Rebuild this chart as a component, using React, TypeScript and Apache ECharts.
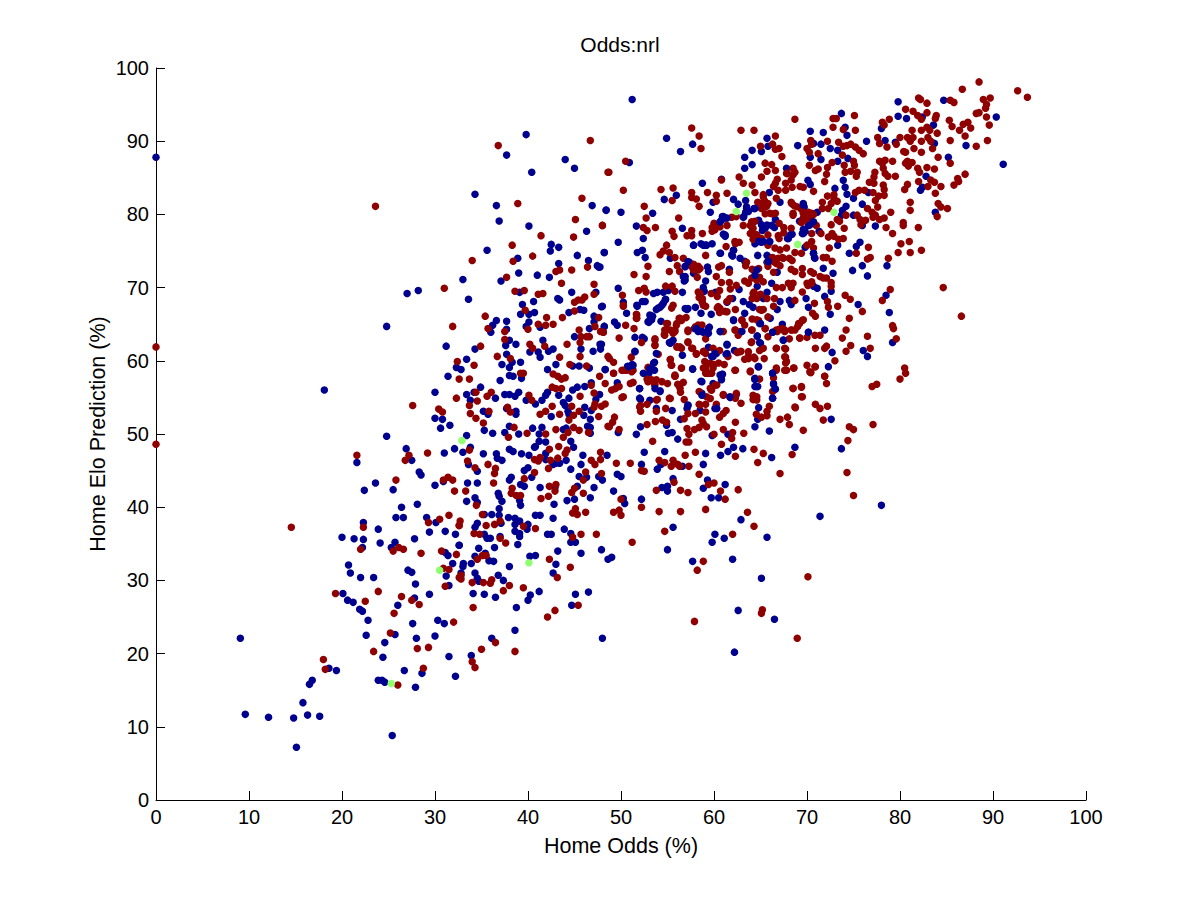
import React, { useEffect, useRef } from "react";
import * as echarts from "echarts";

const chartTitle = "Odds:nrl";
const xAxisTitle = "Home Odds (%)";
const yAxisTitle = "Home Elo Prediction (%)";

const bluePoints: number[][] = [
[0,87.8],[24.8,49.7],[26.9,48.0],[31.0,47.4],[32.1,48.0],[27.5,46.4],[21.6,46.1],[28.3,44.8],[28.5,44.4],[23.6,43.3],[22.4,42.3],[25.5,42.4],[30.0,43.0],[30.9,43.5],[26.4,40.0],[28.1,40.4],[25.8,38.6],[26.6,38.6],[29.1,38.6],[30.1,37.9],[22.3,37.9],[23.9,37.0],[29.4,36.6],[31.1,36.7],[32.2,36.3],[20.0,35.9],[21.3,35.7],[22.3,35.6],[27.8,35.7],[24.1,35.1],[25.7,35.2],[25.3,34.5],[22.2,34.5],[32.6,34.8],[31.1,33.8],[31.4,33.4],[20.7,32.1],[20.9,31.0],[31.9,32.3],[27.1,31.4],[27.5,31.1],[22.0,30.4],[23.4,30.4],[31.2,30.6],[27.9,29.5],[31.5,29.3],[20.1,28.2],[20.6,27.3],[21.2,27.0],[27.8,27.6],[29.4,28.1],[26.0,26.6],[21.9,26.05],[22.2,25.8],[22.8,24.55],[27.6,24.1],[30.3,24.55],[31.0,24.1],[22.6,22.5],[25.7,22.6],[28.0,22.1],[30.0,22.4],[24.6,21.5],[24.4,19.5],[31.5,19.6],[9.07,22.1],[18.6,18.0],[19.4,17.7],[26.7,17.7],[28.6,17.3],[32.2,16.9],[16.8,16.35],[16.5,15.8],[23.9,16.35],[24.3,16.35],[24.6,16.1],[27.9,15.4],[15.8,13.3],[9.6,11.7],[12.1,11.3],[14.8,11.2],[16.3,11.6],[17.6,11.45],[25.4,8.8],[15.1,7.2],
[39.8,90.9],[37.7,88.1],[44.0,87.5],[45.0,86.3],[40.4,85.75],[34.3,82.75],[36.6,81.2],[46.9,81.2],[48.4,80.6],[36.9,79.1],[40.1,78.4],[46.3,77.7],[42.5,75.9],[43.3,75.5],[42.4,75.0],[35.6,75.1],[45.3,74.4],[48.2,74.8],[38.9,74.0],[46.5,73.7],[43.3,73.3],[47.45,73.0],[47.6,72.8],[39.0,72.0],[41.0,71.7],[42.3,71.4],[33.0,71.1],[37.1,70.9],[27.0,69.2],[28.2,69.6],[33.6,68.4],[39.1,69.35],[44.7,69.35],[47.3,69.35],[39.4,67.7],[40.6,68.1],[43.2,68.5],[43.4,68.3],[47.9,67.4],[44.4,66.6],[45.6,67.0],[46.0,66.9],[39.2,66.35],[40.1,66.35],[40.7,66.6],[47.1,66.1],[36.6,65.5],[37.7,65.4],[36.2,64.85],[24.8,64.7],[40.1,65.3],[39.8,64.7],[41.3,64.6],[47.1,65.3],[48.2,64.7],[46.6,64.4],[36.0,63.9],[37.7,64.3],[45.0,63.3],[38.0,62.8],[37.6,62.1],[38.7,62.25],[41.6,62.8],[31.2,62.0],[34.3,61.6],[45.7,61.6],[47.9,62.25],[47.8,61.6],[47.0,61.3],[37.7,60.9],[40.2,61.2],[41.1,61.2],[41.3,60.5],[42.2,61.3],[42.7,61.6],[33.4,60.2],[38.3,59.8],[39.2,59.8],[37.2,59.5],[38.0,59.1],[43.0,59.5],[32.3,59.1],[32.8,58.8],[44.8,59.3],[45.5,59.3],[46.6,59.0],[48.3,58.8],[42.1,58.8],[31.4,57.9],[38.0,58.0],[38.4,57.9],[39.3,57.6],[37.0,57.3],[46.8,57.0],[46.1,56.5],[34.9,56.4],[44.8,56.0],[45.3,56.4],[18.1,56.0],[30.0,55.7],[33.4,55.4],[34.2,55.7],[37.5,55.4],[38.0,55.4],[39.0,55.7],[38.6,55.15],[36.5,54.9],[33.8,54.6],[42.1,55.7],[41.9,55.3],[43.3,55.3],[44.4,54.9],[47.7,55.4],[47.3,54.7],[41.5,54.6],[39.8,54.6],[40.8,54.1],[43.8,54.3],[44.0,53.9],[46.1,53.65],[46.8,53.2],[37.7,53.5],[35.2,53.1],[35.7,52.7],[38.7,53.1],[38.7,52.7],[44.3,53.1],[44.4,52.7],[46.0,52.55],[42.5,52.4],[30.0,52.15],[30.8,52.0],[46.7,52.0],[31.6,51.2],[30.6,50.8],[38.0,51.05],[40.5,50.8],[41.5,50.9],[43.8,50.6],[44.1,50.8],[46.4,51.05],[46.7,50.9],[35.3,50.5],[37.5,50.2],[36.2,50.1],[33.4,49.8],[39.0,50.0],[41.2,50.0],[46.7,50.1],
[33.8,48.2],[33.0,47.5],[35.2,47.3],[36.6,47.3],[38.0,47.9],[38.4,47.6],[39.3,47.3],[40.1,47.1],[40.8,48.3],[41.2,49.0],[41.9,48.9],[40.7,48.2],[44.9,48.2],[44.6,49.0],[45.9,47.1],[48.5,47.1],[36.7,46.7],[37.2,46.4],[33.6,45.85],[34.55,44.9],[41.9,47.35],[41.9,46.5],[43.0,46.0],[43.4,46.0],[44.1,46.4],[45.7,45.85],[42.7,45.85],[40.0,45.4],[39.6,45.0],[40.4,44.1],[44.6,45.2],[38.0,43.7],[38.2,44.1],[33.5,43.3],[34.55,43.3],[39.2,43.1],[39.6,42.85],[41.3,42.7],[42.9,42.7],[45.5,44.2],[46.3,44.1],[47.6,44.2],[48.0,43.7],[45.3,42.85],[47.1,42.7],[36.8,41.9],[36.9,41.5],[34.3,41.3],[33.4,40.8],[34.55,40.65],[37.2,40.8],[39.1,40.9],[39.2,40.25],[42.8,40.4],[44.2,40.9],[45.0,41.1],[46.7,41.3],[36.9,39.8],[36.9,38.9],[35.3,39.0],[36.1,39.0],[37.9,38.6],[38.6,38.5],[39.1,38.1],[40.8,38.9],[41.3,38.9],[42.7,38.5],[34.55,37.8],[34.3,37.25],[37.1,37.8],[38.6,37.65],[40.0,37.65],[38.6,36.7],[39.1,36.4],[39.1,36.0],[39.9,37.0],[35.3,36.3],[35.6,35.75],[35.95,35.75],[37.0,36.0],[42.1,36.3],[42.5,36.3],[43.9,37.0],[44.6,36.4],[44.6,35.2],[45.1,35.2],[32.6,34.8],[34.7,34.4],[36.4,34.5],[38.9,34.9],[43.2,34.0],[45.7,33.7],[47.9,34.2],[34.3,33.3],[35.4,33.7],[35.8,32.7],[36.3,32.6],[40.2,33.3],[40.8,33.4],[48.6,32.9],[49.0,33.15],[33.05,32.3],[33.0,31.9],[33.9,32.3],[38.0,31.9],[43.0,32.2],[42.7,31.0],[32.8,31.0],[34.3,31.0],[34.7,29.9],[34.55,30.3],[36.8,30.7],[37.35,30.0],[34.1,28.2],[35.3,28.1],[36.5,27.7],[41.2,28.5],[40.25,28.0],[40.0,27.3],[45.1,28.1],[46.5,28.4],[38.75,26.3],[44.7,26.6],[38.6,23.2],[36.1,22.1],[48.0,22.1],[33.9,19.75],
[49.6,57.0],[52.0,56.2],[52.1,54.7],[53.1,54.6],[54.2,55.8],[53.8,53.5],[55.5,53.2],[57.2,53.9],[57.1,53.5],[58.6,57.2],[59.9,56.9],[60.8,57.5],[60.9,58.15],[58.7,55.55],[61.75,55.0],[62.4,55.4],[60.1,53.5],[58.5,53.2],[64.4,57.5],[64.4,56.5],[64.7,56.5],[66.3,58.3],[66.4,56.9],[66.6,56.1],[66.3,54.9],[64.8,53.6],[64.7,52.0],[64.4,51.0],[65.95,50.4],[72.6,52.0],[56.4,52.0],[52.1,51.0],[49.7,50.2],[51.65,49.95],[54.9,51.2],[55.1,50.1],[55.5,50.2],[56.1,49.3],[59.8,49.8],[61.5,49.95],[52.5,47.5],[54.7,47.6],[59.1,47.35],[62.1,48.2],[61.5,47.6],[60.7,47.1],[63.1,48.0],[66.2,46.8],[68.7,48.2],[73.7,48.0],[52.2,45.85],[58.85,45.85],[53.9,45.2],[54.3,45.85],[56.6,45.6],[49.6,44.5],[50.0,44.2],[55.6,43.9],[59.3,43.7],[61.2,43.1],[58.85,42.6],[54.4,42.7],[55.0,42.85],[55.0,42.2],[49.2,42.2],[52.2,41.1],[59.7,41.3],[60.5,41.3],[50.25,41.2],[50.4,40.5],[78.0,40.25],[71.4,38.75],[62.9,38.3],[55.6,37.25],[60.1,36.3],[61.1,35.75],[59.8,35.2],[65.7,35.9],[55.0,34.2],[62.0,32.9],[57.7,32.6],[65.1,30.3],[62.6,25.9],[66.5,24.7],[62.2,20.2],
[51.2,95.7],[79.8,95.4],[84.7,95.6],[73.7,93.8],[79.8,93.4],[80.7,93.1],[82.4,93.3],[90.35,93.3],[83.6,92.2],[74.1,91.9],[78.0,91.75],[70.35,91.35],[71.75,91.2],[74.3,90.8],[65.7,90.4],[54.9,90.4],[57.7,89.6],[56.4,88.6],[78.4,90.1],[76.4,90.0],[79.5,89.85],[83.7,89.7],[70.7,89.7],[71.5,89.6],[69.0,89.4],[72.5,89.0],[73.3,88.75],[87.1,89.4],[65.8,89.3],[64.1,88.75],[65.1,88.6],[63.3,87.8],[70.35,87.8],[71.5,87.5],[74.4,87.65],[73.3,87.25],[85.2,87.8],[50.9,87.1],[91.1,86.85],[64.1,86.8],[63.3,86.3],[67.8,86.3],[82.8,85.2],[73.9,84.65],[70.1,84.65],[70.35,84.1],[58.75,84.25],[60.8,84.8],[73.0,83.55],[74.1,83.7],[74.3,82.75],[65.95,83.0],[82.4,83.7],[82.2,83.3],[76.6,83.0],[75.0,82.2],[55.95,82.6],[54.65,82.05],[59.9,81.65],[62.1,82.05],[63.4,81.9],[75.95,81.4],[67.1,81.65],[69.6,81.5],[69.7,81.0],[74.2,81.1],[73.8,80.55],[48.4,80.55],[50.0,80.3],[53.4,80.15],[59.6,80.3],[83.8,80.3],[62.6,81.4],[63.5,80.8],[64.3,80.8],[63.4,80.3],[63.15,79.6],[71.1,80.3],[75.0,79.9],[73.7,79.9],[60.9,79.7],[61.2,79.5],[60.8,79.2],[64.8,79.2],[66.6,79.3],[65.1,78.6],[65.5,78.1],[65.2,77.8],[66.2,78.5],[66.5,78.2],[51.65,78.4],[56.6,78.1],[77.35,78.4],[75.95,78.5],[69.2,79.05],[70.15,78.5],[70.5,78.8],[69.6,77.95],[69.5,77.4],[71.3,77.7],[61.0,77.3],[61.2,77.0],[68.4,77.3],[67.9,76.7],[52.4,76.7],[49.7,76.2],[65.95,76.2],[65.1,76.2],[64.4,76.0],[57.8,75.8],[59.1,75.8],[58.6,76.0],[59.8,76.0],[62.3,76.2],[73.3,75.8],[75.7,76.2],[75.3,75.6],[69.8,75.5],[48.2,74.8],[51.75,74.8],[52.3,75.1],[60.7,74.7],[62.1,75.1],[62.0,74.3],[74.55,74.7],[70.7,74.7],[70.8,74.1],[52.6,74.1],[55.3,74.0],[62.8,74.0],[63.3,73.6],[64.7,74.4],[65.7,74.4],[65.95,74.1],[65.7,73.45],[57.35,73.45],[56.9,72.9],[59.3,72.8],[59.4,72.2],[61.65,72.5],[71.75,72.65],[75.95,73.0],[78.6,73.0],[74.9,72.35],[47.74,72.8],[57.8,71.95],[66.8,72.1],[72.8,71.95],[76.5,71.6],[56.9,71.5],[56.8,70.9],[59.1,70.9],[66.2,70.6],[49.7,69.9],[53.5,69.2],[53.9,69.35],[54.55,69.35],[55.1,69.6],[56.6,69.35],[58.85,70.0],[58.95,69.5],[60.15,69.35],[62.7,69.75],[64.65,70.2],[70.7,70.2],[71.1,69.9],[72.6,69.5],[71.9,68.8],[78.5,68.95],[69.9,68.5],[65.3,68.5],[65.7,69.35],[62.0,68.5],[63.15,68.1],[61.4,68.0],[63.8,67.7],[64.2,67.3],[67.1,68.1],[68.1,68.25],[68.3,67.7],[52.3,68.1],[51.75,67.45],[50.25,68.0],[54.8,68.4],[54.55,67.85],[54.2,67.3],[53.8,67.0],[48.0,67.45],[50.6,66.5],[57.1,67.0],[58.0,67.3],[58.6,66.5],[59.7,66.35],[66.8,67.0],[70.15,67.3],[75.5,67.7],[78.85,66.6],[72.5,66.35],[66.05,65.8],[62.1,65.5],[64.9,65.1],[67.35,65.0],[53.4,66.1],[53.15,65.7],[53.0,65.25],[54.3,65.4],[49.3,65.3],[49.6,64.85],[48.2,64.7],[57.9,64.4],[58.3,64.0],[58.85,63.9],[59.5,64.6],[60.7,64.0],[62.9,64.0],[66.3,63.9],[70.15,63.9],[71.9,64.2],[64.65,63.35],[65.0,62.4],[67.45,62.8],[51.5,63.2],[52.3,63.2],[52.5,63.0],[55.6,62.8],[55.2,62.5],[79.2,62.5],[47.74,62.25],[61.4,62.25],[59.4,61.85],[62.2,61.4],[51.5,61.3],[76.05,61.4],[76.5,60.6],[72.7,61.15],[56.6,60.75],[61.3,60.9],[60.25,61.0],[59.9,60.6],[53.6,59.8],[51.2,59.5],[50.7,59.25],[48.3,58.8],[53.0,58.3],[53.6,58.7],[57.7,58.85],[64.8,59.2],[66.3,58.3],[72.3,59.2],[60.9,58.15],[64.4,57.6],
];

const redPoints: number[][] = [
[0,61.9],[0,48.6],[93.7,96.0],[21.6,47.1],[27.2,47.1],[26.8,46.4],[29.2,47.4],[25.8,43.7],[31.4,44.1],[31.9,43.7],[30.9,43.7],[32.1,42.2],[22.3,37.25],[14.55,37.25],[29.3,37.9],[30.5,38.35],[31.5,38.9],[32.6,37.5],[22.0,34.25],[25.5,34.0],[26.1,34.5],[26.6,34.25],[28.5,33.7],[30.7,34.0],[32.3,33.55],[30.9,31.65],[31.5,31.5],[32.6,30.4],[31.1,29.2],[19.3,28.2],[23.9,28.5],[26.4,27.8],[22.5,27.15],[27.5,27.3],[28.3,26.7],[25.6,25.5],[32.0,24.3],[25.2,22.8],[23.4,20.3],[28.1,20.7],[29.3,20.85],[18.0,19.2],[18.2,17.85],[28.75,18.0],[26.0,15.7],
[36.8,89.4],[46.7,90.1],[23.6,81.1],[48.6,85.75],[45.8,82.2],[38.9,81.5],[45.1,79.3],[48.0,78.5],[41.4,77.1],[44.9,76.9],[38.3,75.8],[40.5,74.3],[34.0,73.7],[38.4,73.6],[46.4,72.8],[43.4,72.4],[43.0,72.2],[44.7,72.4],[37.7,71.4],[43.6,70.6],[47.1,70.45],[31.0,69.9],[38.6,69.5],[39.6,69.6],[41.1,69.1],[41.6,69.2],[47.1,69.1],[45.0,68.0],[45.4,68.3],[45.8,68.3],[46.1,68.7],[39.7,66.9],[45.0,66.8],[35.4,66.1],[42.0,65.9],[43.7,65.9],[47.6,65.9],[31.9,64.7],[35.7,64.4],[41.1,65.0],[41.9,64.85],[42.7,65.0],[47.2,64.7],[40.0,64.3],[37.5,64.0],[45.5,64.2],[47.8,64.0],[48.1,63.9],[45.7,63.3],[46.3,63.3],[46.6,63.3],[37.5,62.9],[45.6,62.5],[44.2,62.25],[40.2,62.25],[34.9,62.0],[40.5,61.7],[41.8,62.0],[36.7,60.6],[38.1,60.3],[43.4,60.5],[45.6,60.6],[48.6,60.6],[32.4,59.9],[34.2,59.4],[44.5,59.5],[46.3,59.3],[39.2,58.3],[39.5,58.3],[42.7,58.2],[43.2,57.9],[44.0,57.7],[43.6,57.5],[32.6,57.5],[33.7,57.5],[47.7,57.9],[48.3,56.9],[46.8,56.65],[42.6,56.4],[43.0,56.2],[43.6,56.2],[34.4,55.7],[36.05,55.7],[35.6,55.15],[40.1,55.3],[47.1,55.6],[32.3,54.9],[45.6,55.15],[40.4,54.6],[34.55,54.5],[33.7,53.9],[27.6,53.9],[42.6,53.8],[44.7,53.8],[47.2,54.1],[48.3,54.1],[47.9,53.8],[47.1,53.65],[30.4,53.4],[30.8,53.0],[33.8,52.8],[35.8,53.1],[37.8,53.65],[38.1,53.0],[41.3,52.7],[41.9,53.1],[43.4,52.7],[45.5,53.1],[44.9,52.55],[34.4,52.15],[47.6,52.4],[44.4,51.9],[35.2,51.5],[38.5,50.9],[43.0,50.6],[44.9,50.9],[45.5,50.5],[48.6,51.05],[46.5,50.2],[41.9,50.0],[39.9,50.1],[44.3,50.2],[37.9,49.55],[43.8,49.55],
[33.7,47.8],[33.5,46.3],[34.3,45.4],[35.7,45.85],[36.5,45.3],[36.4,44.6],[36.3,43.3],[39.6,43.9],[40.7,44.75],[40.7,46.5],[41.1,46.3],[41.3,46.8],[42.2,45.3],[43.3,48.3],[42.3,47.9],[44.2,47.8],[44.0,47.35],[43.2,46.7],[42.4,46.4],[47.8,47.5],[47.8,46.5],[46.8,46.4],[47.2,45.85],[46.2,44.8],[47.9,44.6],[45.95,43.7],[33.3,42.2],[38.3,42.6],[38.2,41.9],[38.75,41.6],[39.2,41.6],[42.3,42.85],[43.0,43.1],[42.9,42.2],[45.0,42.6],[44.7,42.0],[45.95,41.9],[42.2,41.5],[41.4,41.2],[34.45,40.25],[45.1,39.8],[44.8,39.2],[45.3,39.0],[46.2,39.3],[35.1,39.0],[32.7,38.1],[32.6,37.5],[35.5,37.5],[36.4,37.65],[37.0,38.1],[39.5,37.4],[40.8,37.1],[34.2,36.4],[34.8,36.3],[37.0,35.75],[37.6,35.1],[44.8,35.9],[45.7,36.3],[47.35,36.3],[34.55,32.9],[35.1,33.4],[35.5,33.4],[42.3,32.9],[44.55,31.8],[32.8,30.7],[32.8,30.2],[43.15,30.4],[34.0,29.7],[35.2,29.7],[35.95,29.6],[36.1,30.1],[38.0,29.3],[37.35,28.6],[39.5,29.0],[34.1,26.3],[42.9,25.9],[42.1,25.0],[45.4,26.6],[36.5,21.5],[35.0,20.6],[38.6,20.3],[34.0,18.9],[34.3,18.1],
[51.2,35.2],[49.5,46.0],[51.0,46.0],[52.2,45.0],[52.5,44.9],[54.1,46.4],[54.7,46.1],[55.6,46.4],[56.1,45.85],[55.4,45.6],[56.3,45.6],[57.3,45.6],[56.9,47.1],[58.0,47.5],[58.4,44.5],[55.7,43.4],[56.4,42.3],[57.2,42.0],[53.8,42.3],[59.4,43.1],[60.0,43.3],[60.7,42.2],[61.2,41.1],[62.6,42.4],[59.1,39.7],[56.4,39.4],[54.1,39.4],[52.2,40.0],[49.2,39.3],[49.8,39.6],[50.0,38.9],[50.0,41.1],[63.6,39.3],[64.3,37.4],[62.0,36.3],[54.7,36.7],[58.85,32.6],[58.2,31.4],[70.1,30.5],[65.2,26.0],[65.1,25.5],[57.9,24.4],[68.95,22.1],[75.0,41.6],[74.3,44.75],[67.1,44.6],[64.7,46.1],[65.3,47.35],[64.3,47.9],[62.3,46.95],[68.4,47.2],[74.4,49.1],[69.6,50.5],[77.1,51.3],[75.0,50.6],[74.55,51.0],[71.75,51.9],[68.1,51.3],[67.9,52.3],[67.1,52.0],[68.75,53.6],[70.9,54.05],[71.4,53.5],[72.2,53.8],[69.5,55.1],[68.5,56.2],[69.4,56.4],[72.1,56.9],[71.9,57.9],[77.0,56.5],[77.5,56.8],[70.4,58.4],[63.2,50.1],[62.0,50.2],[61.0,50.6],[62.3,51.6],[60.8,48.6],[60.0,49.95],[61.9,49.4],[65.7,52.5],[65.1,52.3],[64.55,52.7],[65.95,53.8],[65.7,53.1],[64.6,55.1],[64.2,54.7],[62.9,54.2],[62.3,54.9],[61.0,55.4],[60.25,54.05],[61.3,53.2],[60.6,52.3],[61.0,52.8],[59.1,54.05],[58.4,54.05],[59.1,53.0],[58.0,52.8],[57.2,52.8],[56.8,52.1],[58.7,51.9],[58.85,51.45],[59.2,51.0],[58.4,50.9],[57.9,50.6],[57.1,50.75],[57.3,49.95],[57.0,48.9],[57.3,48.9],[53.4,49.0],[54.9,51.6],[54.45,51.9],[53.7,51.7],[52.8,51.3],[49.3,52.3],[49.1,51.6],[48.75,51.0],[49.8,50.6],[50.1,55.0],[52.1,53.9],[52.1,53.1],[52.8,54.05],[53.9,54.7],[53.8,53.1],[54.8,53.5],[55.2,54.9],[56.8,54.7],[56.4,55.7],[56.1,56.8],[56.7,57.05],[55.8,57.9],[55.0,56.9],[53.6,56.8],[52.8,57.5],[51.0,56.9],[51.3,57.05],[49.2,58.3],[49.0,56.0],[49.4,56.2],[49.8,56.5],[58.4,55.8],[59.7,56.0],[60.1,56.65],[59.4,58.3],[66.4,57.7],[64.9,57.5],[66.3,55.8],
[88.5,98.1],[86.7,97.1],[92.65,96.9],[82.0,95.9],[82.2,95.7],[82.9,95.2],[85.4,95.6],[85.8,95.3],[88.96,95.7],[89.7,95.9],[89.3,95.0],[89.2,94.5],[80.6,94.35],[81.4,94.1],[82.9,93.9],[81.9,93.5],[88.5,93.9],[88.2,93.8],[89.3,93.3],[83.9,93.5],[83.8,93.1],[82.3,93.0],[75.1,93.5],[72.8,93.1],[73.15,93.1],[68.7,93.0],[85.3,92.85],[78.85,93.0],[78.1,92.6],[78.3,92.2],[87.3,92.6],[86.8,92.3],[87.6,91.8],[89.6,92.2],[72.8,91.9],[73.9,91.6],[75.2,91.5],[85.6,92.0],[86.4,91.5],[84.0,91.1],[81.3,91.5],[82.3,91.5],[82.9,91.9],[83.2,91.5],[57.6,91.8],[58.4,90.7],[62.9,91.5],[64.3,91.5],[66.6,90.7],[87.0,90.7],[89.4,90.1],[85.4,90.1],[88.2,89.3],[77.6,90.5],[80.0,90.5],[80.8,90.5],[81.4,90.5],[81.1,90.0],[82.3,90.0],[83.0,90.5],[83.3,90.0],[77.8,89.7],[78.6,89.2],[79.6,89.6],[83.5,89.0],[81.5,89.0],[80.4,88.6],[80.6,88.5],[82.3,88.5],[70.4,90.1],[72.2,90.0],[73.4,89.85],[73.9,89.3],[74.3,89.4],[74.7,89.6],[75.2,89.2],[75.6,88.75],[76.05,88.3],[70.5,89.6],[70.0,89.0],[70.25,88.5],[71.2,88.3],[73.8,88.1],[65.0,89.3],[66.3,89.6],[66.6,88.9],[67.0,89.0],[67.3,87.9],[58.6,89.0],[50.5,87.25],[48.7,85.75],[84.1,87.8],[85.4,87.0],[77.8,87.25],[78.4,87.4],[78.1,87.0],[79.2,87.25],[80.6,87.0],[80.8,87.25],[81.3,87.1],[80.9,86.6],[78.2,86.3],[65.5,87.0],[66.2,86.8],[75.0,87.25],[75.1,86.7],[74.0,86.7],[72.7,87.1],[72.2,86.4],[70.25,86.7],[71.2,86.2],[70.9,86.0],[65.7,85.9],[66.6,86.0],[67.9,85.6],[68.5,86.3],[68.7,85.75],[74.1,85.75],[74.7,85.9],[75.4,85.75],[75.3,85.2],[72.1,85.5],[71.9,84.5],[81.9,86.3],[82.1,85.75],[82.9,86.4],[83.7,86.2],[77.3,85.75],[77.2,85.1],[78.4,85.6],[78.7,85.2],[79.5,85.2],[87.0,85.5],[86.2,84.9],[86.3,84.5],[85.8,84.0],[82.0,84.5],[83.3,84.7],[83.7,84.4],[83.0,83.8],[84.4,83.8],[83.8,82.9],[80.8,84.1],[80.5,83.4],[62.7,85.1],[65.1,85.1],[60.8,84.7],[63.15,84.25],[64.1,84.0],[66.8,84.8],[66.6,84.25],[66.4,83.8],[67.7,84.25],[68.3,84.7],[68.4,83.7],[69.25,83.8],[69.6,83.7],[70.7,83.15],[50.25,83.3],[54.3,83.4],[55.6,83.6],[57.6,83.0],[59.3,83.0],[61.4,82.9],[60.25,82.6],[57.6,82.3],[58.1,82.1],[64.4,83.0],[66.9,83.3],[67.7,83.3],[76.7,84.4],[77.2,84.25],[78.2,84.0],[78.3,83.4],[77.1,83.0],[78.3,82.6],[77.7,82.5],[77.35,81.9],[75.2,83.0],[75.6,83.3],[76.2,83.3],[72.9,82.7],[72.2,82.5],[72.9,82.1],[55.5,81.9],[65.3,82.7],[65.4,81.9],[64.7,81.65],[65.8,81.5],[65.4,81.1],[60.25,81.8],[58.4,81.1],[52.5,81.1],[84.1,81.5],[84.4,81.0],[85.1,80.8],[81.1,81.65],[81.1,80.55],[79.0,80.3],[77.6,81.0],[76.5,80.8],[77.0,80.3],[77.35,79.9],[78.3,79.5],[77.8,79.3],[77.1,79.6],[68.3,81.65],[68.6,81.2],[68.5,79.9],[69.4,80.7],[70.15,80.3],[70.7,80.0],[69.6,79.5],[69.4,78.9],[70.4,79.3],[72.6,81.5],[72.3,80.8],[73.25,81.8],[71.65,81.65],[71.65,80.8],[74.2,79.9],[73.25,79.3],[73.5,79.05],[72.6,78.6],[75.4,79.9],[75.7,79.3],[76.3,79.2],[75.8,78.6],[74.0,78.1],[80.35,78.9],[80.35,78.5],[81.97,78.2],[84.0,79.7],[78.5,78.2],[79.2,77.4],[56.2,79.5],[52.7,79.5],[48.0,78.5],[52.4,78.2],[52.8,77.8],[53.7,78.2],[55.5,77.7],[55.7,77.0],[57.6,77.8],[57.1,77.1],[57.6,77.1],[58.75,77.4],[60.0,78.8],[59.8,78.2],[60.25,78.5],[59.8,77.7],[61.4,78.5],[61.9,79.6],[63.15,78.5],[64.4,79.05],[63.9,78.5],[64.1,78.2],[64.4,77.3],[64.2,76.6],[64.7,76.9],[65.5,80.1],[66.2,80.1],[67.0,78.8],[67.5,78.2],[67.5,77.5],[66.9,77.1],[67.0,76.7],[68.3,78.1],[71.0,78.5],[71.5,77.4],[70.5,77.4],[72.3,76.9],[72.7,77.4],[72.9,77.0],[73.9,76.7],[73.4,76.6],[72.4,75.4],[76.6,75.5],[80.1,76.0],[81.0,76.3],[79.8,74.8],[81.1,74.8],[82.3,75.1],[78.75,74.0],[75.3,74.7],[76.8,74.1],[76.5,73.9],
[54.9,75.8],[54.2,74.5],[54.55,75.0],[55.2,74.8],[55.8,74.1],[56.7,74.0],[52.9,72.9],[56.05,73.0],[56.3,72.2],[55.2,72.2],[51.4,71.8],[52.7,71.5],[57.8,73.2],[58.3,72.9],[58.3,72.4],[60.8,73.0],[60.5,72.8],[59.1,74.4],[61.3,75.6],[62.7,76.2],[62.3,76.0],[61.65,72.1],[63.5,73.45],[63.4,73.0],[64.1,72.5],[64.5,72.4],[64.8,72.6],[65.8,72.9],[65.8,73.45],[66.3,74.1],[66.9,74.0],[67.35,74.1],[66.7,73.3],[66.4,72.1],[67.1,73.0],[68.1,74.0],[68.7,74.8],[68.4,73.7],[71.75,74.1],[72.1,74.1],[72.7,73.6],[68.3,72.5],[69.5,72.6],[68.7,72.2],[69.5,71.8],[70.4,72.2],[70.7,71.95],[71.4,71.5],[71.75,71.3],[72.1,71.3],[72.6,70.7],[72.6,70.2],[70.5,70.6],[70.1,70.3],[69.5,69.4],[68.5,70.6],[68.0,70.6],[68.3,70.0],[67.35,70.0],[66.7,70.0],[64.4,71.4],[64.9,71.4],[63.3,70.9],[63.7,70.6],[62.4,70.3],[61.65,70.7],[61.75,69.8],[60.8,70.7],[60.25,71.5],[58.2,71.4],[54.8,70.2],[55.5,70.2],[55.8,69.5],[51.9,69.6],[52.5,69.9],[52.7,69.4],[50.15,68.95],[50.25,67.45],[58.3,69.4],[58.4,68.65],[58.75,68.5],[58.75,68.0],[59.1,67.45],[60.6,69.6],[59.7,69.2],[60.35,68.8],[61.4,68.1],[60.35,67.2],[60.6,66.6],[61.2,66.75],[62.3,67.0],[64.3,69.4],[64.1,68.5],[65.0,69.1],[66.5,68.5],[65.7,68.5],[66.4,67.45],[64.9,67.0],[65.3,67.0],[64.8,65.5],[64.1,65.7],[63.0,65.5],[68.7,68.25],[70.8,67.85],[72.2,68.1],[72.3,67.3],[73.3,67.45],[74.1,68.95],[74.65,68.4],[75.95,66.75],[78.1,68.25],[78.95,69.75],[84.65,70.0],[86.6,66.1],[74.55,65.8],[70.6,66.5],[70.9,66.1],[69.5,65.5],[69.2,65.1],[67.35,64.4],[66.8,64.0],[67.6,64.0],[68.3,64.2],[68.7,64.2],[69.0,64.7],[74.2,64.2],[71.4,63.5],[70.0,63.2],[69.2,63.1],[68.1,63.0],[67.0,64.3],[65.8,63.3],[65.5,64.4],[64.1,64.2],[62.7,63.9],[62.3,64.2],[79.3,64.4],[79.2,64.8],[76.5,63.35],[73.8,63.1],[79.6,63.0],[74.7,62.1],[76.8,61.7],[74.2,61.3],[70.9,61.7],[71.9,61.7],[72.1,62.0],[66.7,61.7],[67.7,61.6],[65.3,61.7],[64.0,62.5],[64.9,61.4],[62.9,61.3],[62.5,61.15],[63.7,60.6],[64.3,60.5],[63.3,60.2],[61.5,60.6],[60.6,61.4],[59.9,61.7],[61.1,59.5],[60.5,59.7],[60.0,59.5],[59.1,61.0],[59.2,59.7],[58.9,61.3],[58.1,60.9],[57.2,62.5],[57.7,61.7],[56.05,61.9],[56.5,61.7],[59.1,63.0],[57.2,64.0],[56.25,65.8],[57.0,65.9],[56.5,65.5],[55.0,65.1],[55.95,64.85],[54.9,64.2],[55.6,63.75],[54.65,63.6],[55.8,64.2],[51.4,64.4],[51.65,66.35],[51.65,65.8],[50.5,64.85],[49.8,63.1],[48.1,63.9],[53.65,63.0],[53.65,62.1],[52.2,62.5],[51.1,60.5],[54.0,60.9],[55.3,60.2],[55.4,59.4],[49.2,59.8],[48.75,60.3],[49.2,58.3],[50.25,58.7],[51.3,58.7],[52.9,59.1],[56.5,59.0],[55.8,57.9],[59.1,59.0],[59.6,58.3],[59.1,58.3],[62.3,58.7],[63.9,58.6],[66.7,59.0],[67.7,60.5],[67.7,59.7],[67.8,58.7],[68.6,59.0],[70.0,59.4],[70.9,59.2],[70.4,58.4],[73.0,60.0],[71.9,57.9],[80.5,59.0],[80.6,58.3],[80.0,57.5],
[65.0,81.5],[65.5,81.7],[65.66,81.1],[65.1,80.8],[66.0,80.15],[66.6,80.15],[64.05,79.0],[64.2,78.1],[63.9,77.4],[64.6,77.2],[65.1,76.7],[65.8,77.2],[68.35,81.5],[68.9,81.05],[68.5,80.15],[69.6,80.15],[70.1,79.9],[70.5,80.15],[70.0,79.2],[69.4,79.0],[67.8,75.4],[67.1,75.15],[66.55,75.4],[65.8,75.8],[67.45,74.0],[66.4,73.55],[64.6,71.0],[64.05,71.3],[65.3,70.8],[60.1,78.55],[60.1,77.9],[60.65,78.3],[62.4,79.7],[62.25,76.3],[58.1,72.85],[58.5,72.6],[57.6,72.85],[57.8,72.4],[70.7,75.4],[70.5,76.3],[70.0,75.8],[69.4,74.7],[70.5,70.8],[70.0,70.6],[66.7,82.2],[67.8,85.6],[68.5,85.4],[65.3,82.4],
[59.0,59.9],[59.6,59.65],[59.9,59.0],[59.2,58.3],[59.75,58.3],[58.85,59.0],[58.3,64.9],[58.0,64.65],[58.7,64.9],[55.3,64.2],[54.7,64.2],[54.7,63.5],[55.8,64.0],[57.2,64.2],[53.65,62.85],[53.65,62.15],[50.6,58.7],[51.15,58.5],[50.1,58.7],[53.3,57.4],[53.8,57.4],[54.4,57.15],[53.65,56.7],[52.9,57.15],[56.2,56.7],[56.35,56.25],[55.8,58.05],[55.3,60.1],[55.45,59.4],[56.5,59.0],[56.35,61.9],[56.0,61.9],[57.2,62.6],[57.6,61.7],[58.1,61.0],[58.85,61.25],[61.0,64.0],[62.25,64.2],[62.6,63.5],[64.05,64.2],[65.5,64.4],[66.7,64.2],[67.6,64.2],[68.35,64.2],[69.1,65.1],[69.6,65.6],[69.25,63.1],[70.85,63.5],[62.8,61.25],[63.7,61.25],[63.7,60.3],[64.4,60.3],[65.4,60.3],[64.05,62.6],[66.7,61.7],[67.6,61.7],[67.6,60.55],[67.8,59.9],[68.55,59.0],[66.7,58.7],[67.6,58.7],[70.3,58.5],[70.85,59.2],[62.25,58.7],[63.9,58.5],[59.6,56.25],[59.75,56.0],[60.3,56.7],[61.0,55.3],[62.4,55.55],[64.2,55.3],[64.6,54.65],[59.6,54.85],[59.2,55.1],[58.5,53.96],[55.3,54.85],[53.8,54.65],[52.0,53.7],[50.25,55.1],[68.5,56.25],[69.4,56.5],[69.4,55.1],[68.7,53.7],[55.6,67.6],[55.45,67.2],[51.7,66.25],[51.7,65.8],[50.25,67.6],[58.5,69.2],[58.7,68.3],[58.85,67.6],[60.45,67.4],[61.4,66.7],[61.7,68.5],[60.65,67.15],[64.6,68.5],[64.2,69.2],[65.1,66.9],[65.8,66.0],[64.6,65.6],[63.0,65.6],[63.3,64.9],[56.35,65.8],[56.0,65.1],[54.9,65.1],
];

const blueTopPoints: number[][] = [
[63.5,81.05],[63.7,80.4],[63.2,79.7],[64.4,80.8],[61.0,79.7],[61.4,79.5],[60.65,79.0],[65.3,78.1],[65.7,78.55],[64.8,76.3],[65.3,76.3],[66.0,76.3],[69.6,81.3],[70.3,78.55],[70.7,79.0],[69.8,77.65],[69.6,77.4],[68.2,77.2],[68.0,76.7],[70.7,74.7],[70.85,74.0],[65.85,73.55],[64.6,72.4],[64.4,71.7],[56.9,71.05],[56.7,71.5],[57.2,73.55],[56.9,72.85],[58.85,75.8],[59.2,75.8],[57.8,75.8],[62.1,75.1],[61.9,74.5],[60.65,74.7],[61.2,77.2],
[53.1,66.25],[53.3,65.6],[52.9,65.35],[54.4,67.6],[54.0,67.2],[54.75,68.3],[52.6,68.1],[51.7,67.6],[57.2,67.15],[56.9,67.15],[58.1,64.4],[58.7,64.0],[59.4,64.4],[59.4,63.75],[60.65,64.0],[62.1,65.6],[61.4,62.15],[60.1,61.0],[59.75,60.6],[61.4,61.0],[60.65,58.05],[60.8,57.4],[58.7,57.15],[57.7,58.9],[55.45,62.6],[55.3,62.4],[51.5,61.25],[53.8,61.0],[53.5,59.65],[53.1,58.95],[51.3,59.4],[50.8,59.2],[52.4,58.3],[52.0,56.2],[53.65,56.2],[54.2,55.9],[64.75,59.2],[66.3,58.3],[64.4,57.45],[66.4,56.8],[66.55,56.2],[64.6,56.5],[66.3,54.9],[64.9,62.5],[64.65,63.4],[67.45,62.85],[66.3,63.9],[70.15,63.9],[65.0,65.1],[63.0,64.0],[63.3,66.5],[58.7,55.3],[61.7,55.1],[52.0,54.9],[57.2,53.95],[60.3,53.5],
];

const greenPoints: number[][] = [
[25.3,15.9],[30.5,31.4],[32.9,49.1],[40.1,32.4],[63.5,82.9],[62.4,80.4],[72.9,80.3],[69.0,75.9],
];

const axisTicks = [0, 10, 20, 30, 40, 50, 60, 70, 80, 90, 100];
const FONT = "Liberation Sans";
const BLUE = "#00008f";
const RED = "#8f0000";
const GREEN = "#8fff70";

function scatter(data: number[][], color: string) {
  return {
    type: "scatter",
    data,
    symbol: "circle",
    symbolSize: 7.5,
    clip: false,
    silent: true,
    itemStyle: { color, opacity: 1 },
  };
}

function axis(name: string, nameGap: number) {
  return {
    type: "value",
    min: axisTicks[0],
    max: axisTicks[axisTicks.length - 1],
    interval: axisTicks[1] - axisTicks[0],
    name,
    nameLocation: "middle",
    nameGap,
    nameMoveOverlap: false,
    nameTextStyle: { color: "#000", fontFamily: FONT, fontSize: 21.5 },
    axisLine: { show: true, onZero: false, lineStyle: { color: "#000", width: 1 } },
    axisTick: { show: true, inside: true, length: 9, lineStyle: { color: "#000", width: 1 } },
    axisLabel: { color: "#000", fontFamily: FONT, fontSize: 20, margin: 7 },
    splitLine: { show: false },
  };
}

export default function App() {
  const ref = useRef<HTMLDivElement>(null);
  useEffect(() => {
    const chart = echarts.init(ref.current!, undefined, { renderer: "svg" });
    chart.setOption({
      animation: false,
      backgroundColor: "#fff",
      title: {
        text: chartTitle,
        left: 620,
        top: 34,
        textAlign: "center",
        padding: 0,
        textStyle: { color: "#000", fontFamily: FONT, fontSize: 21, fontWeight: "normal" },
      },
      grid: { left: 156, right: 114, top: 68, bottom: 100 },
      xAxis: axis(xAxisTitle, 35),
      yAxis: axis(yAxisTitle, 47),
      series: [
        scatter(bluePoints, BLUE),
        scatter(redPoints, RED),
        scatter(blueTopPoints, BLUE),
        scatter(greenPoints, GREEN),
      ],
    });
    return () => chart.dispose();
  }, []);
  return <div ref={ref} style={{ position: "absolute", left: 0, top: 0, width: 1200, height: 900 }} />;
}
